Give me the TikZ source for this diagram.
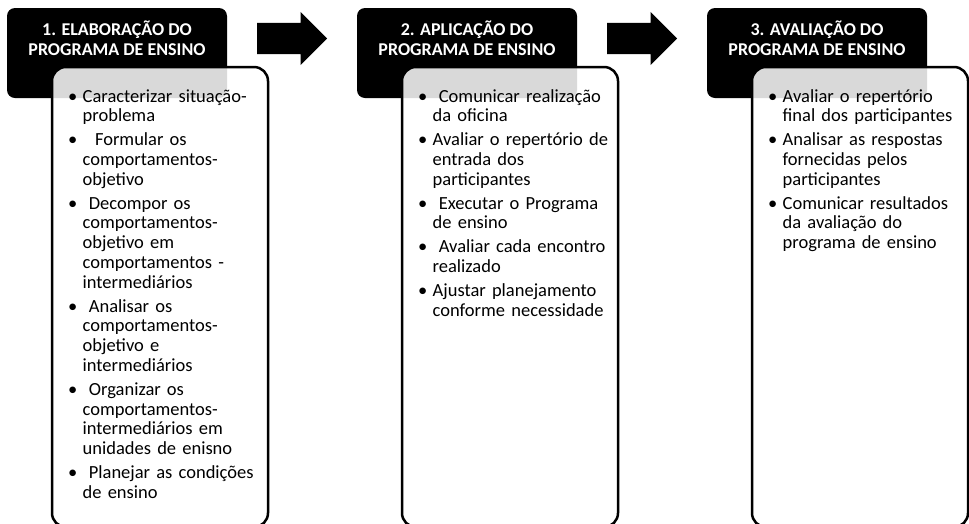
\documentclass[tikz,border=0pt]{standalone}
\usepackage{fontspec}
\setmainfont{Carlito}
\usetikzlibrary{positioning,shapes.arrows,calc}

\newlength{\recuo}
\setlength{\recuo}{14.5pt}
\newcommand{\topico}[1]{\par\hangindent=\recuo\hangafter=1\noindent\makebox[\recuo][l]{\textbullet}#1\par}

\begin{document}
\begin{tikzpicture}[
    x=1pt, y=-1pt,
    cabeca/.style={rectangle, rounded corners=8pt, fill=black, minimum width=220pt, minimum height=90pt, inner sep=0pt, outer sep=0pt},
    titulo/.style={text=white, font=\fontsize{18}{20}\selectfont\bfseries, align=center, inner sep=0pt},
    corpo/.style={rectangle, rounded corners=14pt, draw=black, line width=2.5pt, fill=white, fill opacity=0.85, minimum width=216pt, minimum height=460pt, inner sep=0pt, outer sep=0pt},
    lista/.style={text width=200pt, align=left, inner sep=0pt, font=\fontsize{18.5}{19.8}\selectfont, execute at begin node={\setlength{\parskip}{4pt}}},
    seta/.style={single arrow, fill=black, minimum height=70pt, minimum width=53pt, single arrow head extend=11pt, inner xsep=0pt, inner ysep=15.5pt, anchor=tail}
]
\useasboundingbox (0,0) rectangle (969,523);
\clip (0,0) rectangle (969,523);

% Headers
\node[cabeca] (cab1) at (117,53) {};
\node[cabeca] (cab2) at (467,53) {};
\node[cabeca] (cab3) at (817,53) {};

\node[titulo] (tit1) at ($(cab1.north)!0.333!(cab1.south)$) {1. ELABORAÇÃO DO\\PROGRAMA DE ENSINO};
\node[titulo] (tit2) at ($(cab2.north)!0.333!(cab2.south)$) {2. APLICAÇÃO DO\\PROGRAMA DE ENSINO};
\node[titulo] (tit3) at ($(cab3.north)!0.333!(cab3.south)$) {3. AVALIAÇÃO DO\\PROGRAMA DE ENSINO};

% Arrows
\node[seta] (seta1) at ($(cab1.east)!0.5!(cab2.west) + (-35,-14.5)$) {};
\node[seta] (seta2) at ($(cab2.east)!0.5!(cab3.west) + (-35,-14.5)$) {};

% Boxes
\node[corpo, anchor=north west] (corpo1) at ([shift={(45,59)}]cab1.north west) {};
\node[corpo, anchor=north west] (corpo2) at ([shift={(45,59)}]cab2.north west) {};
\node[corpo, anchor=north west] (corpo3) at ([shift={(45,59)}]cab3.north west) {};

% Lists
\node[lista, below right=11pt and 16pt of corpo1.north west] (lista1) {%
\topico{Caracterizar situação-\newline problema}
\topico{\ \ Formular os\newline comportamentos-\newline objetivo}
\topico{\ Decompor os\newline comportamentos-\newline objetivo em\newline comportamentos -\newline intermediários}
\topico{\ Analisar os\newline comportamentos-\newline objetivo e\newline intermediários}
\topico{\ Organizar os\newline comportamentos-\newline intermediários em\newline unidades de enisno}
\topico{\ Planejar as condições\newline de ensino}};

\node[lista, below right=11pt and 16pt of corpo2.north west] (lista2) {%
\topico{\ Comunicar realização\newline da oficina}
\topico{Avaliar o repertório de\newline entrada dos\newline participantes}
\topico{\ Executar o Programa\newline de ensino}
\topico{\ Avaliar cada encontro\newline realizado}
\topico{Ajustar planejamento\newline conforme necessidade}};

\node[lista, below right=11pt and 16pt of corpo3.north west] (lista3) {%
\topico{Avaliar o repertório\newline final dos participantes}
\topico{Analisar as respostas\newline fornecidas pelos\newline participantes}
\topico{Comunicar resultados\newline da avaliação do\newline programa de ensino}};

\end{tikzpicture}
\end{document}
